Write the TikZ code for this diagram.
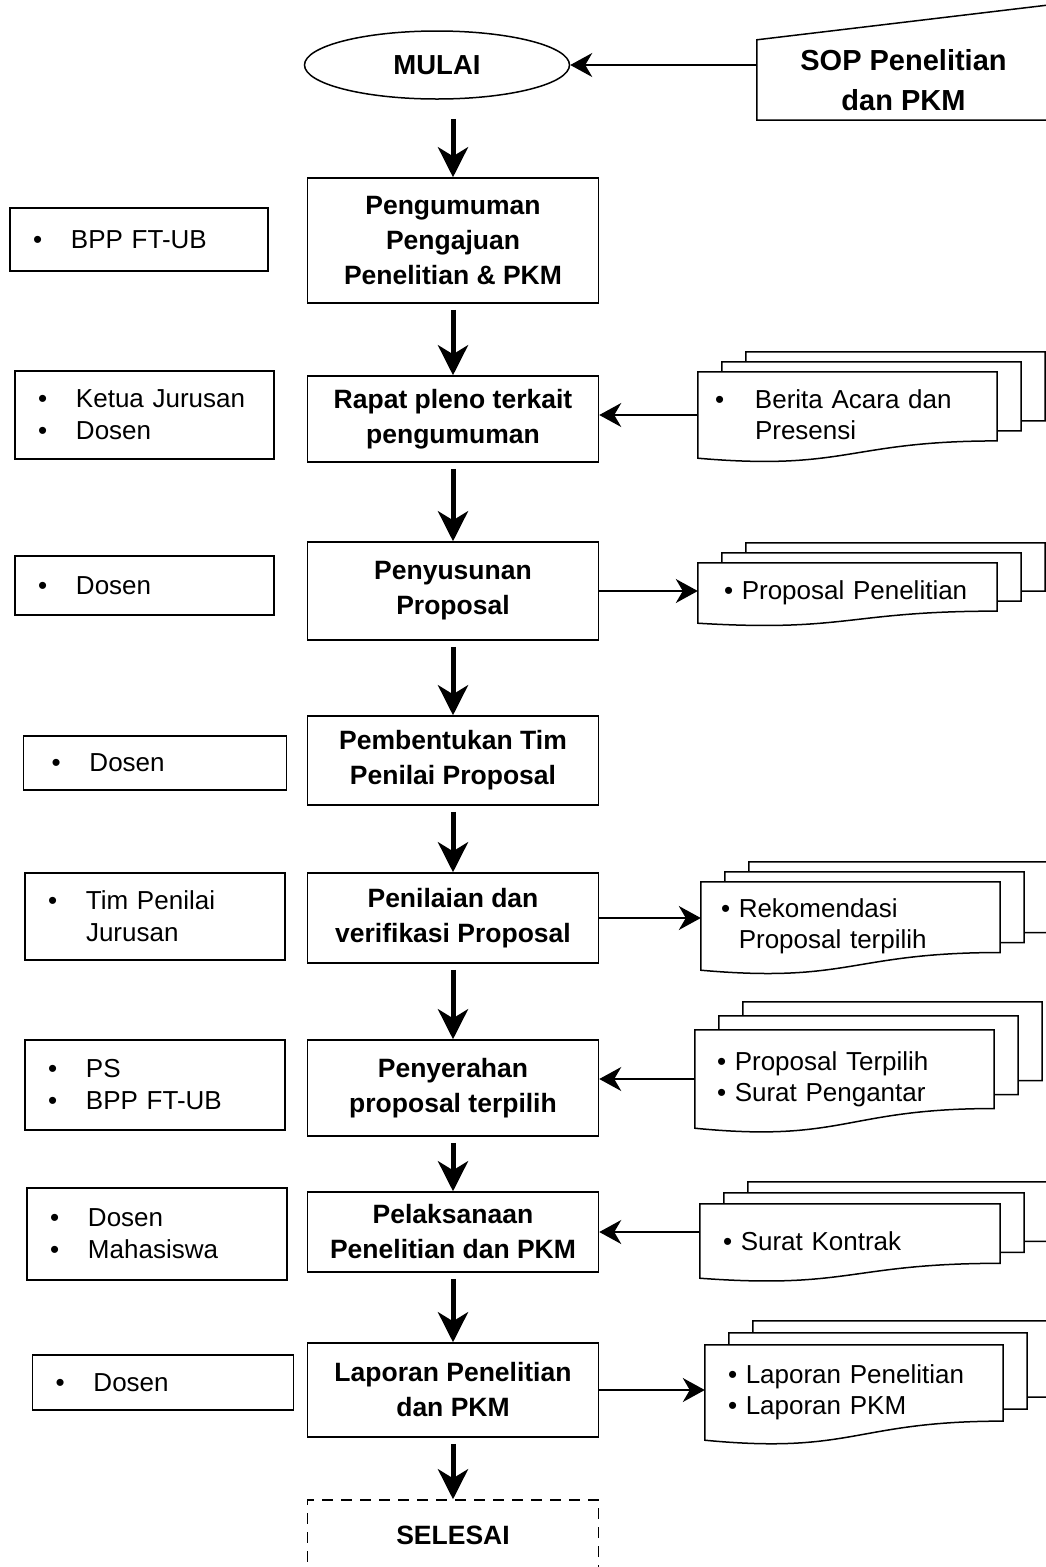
\documentclass[tikz,border=0pt]{standalone}
\usepackage{fontspec}
\setmainfont{Liberation Sans}
\usetikzlibrary{arrows.meta, calc, shapes.geometric}
\newcommand*{\itm}[1]{\makebox[38pt][l]{\textbullet}#1}
\newcommand*{\docstack}[3]{%
    \foreach \k in {2, 1} {
        \draw [sheet] ($(#1.north west)+(\k*#2, -\k*#3+#3)$) -- ($(#1.north west)+(\k*#2, -\k*#3)$)
            -- ($(#1.north east)+(\k*#2, -\k*#3)$)
            -- ($(#1.north east)!0.8!(#1.south east)+(\k*#2, -\k*#3)$)
            -- ($(#1.north east)!0.8!(#1.south east)+(\k*#2-#2, -\k*#3)$);
    }
    \draw [sheet] (#1.north west) -- (#1.north east) -- ($(#1.north east)!0.8!(#1.south east)$)
        .. controls ($(#1.north)!0.8!(#1.south)$) and ($(#1.north)!1.15!(#1.south)$) .. (#1.south west) -- cycle;
}
\tikzstyle{block} = [draw, line width=1.5pt, rectangle, inner xsep=0pt, inner ysep=0pt]
\tikzstyle{process} = [block, minimum width=291pt, align=center, font=\fontsize{26.5}{35}\selectfont\bfseries]
\tikzstyle{actor} = [block, align=left, inner xsep=23pt, font=\fontsize{26}{32}\selectfont]
\tikzstyle{paper} = [rectangle, align=left, inner ysep=0pt, font=\fontsize{26}{31}\selectfont]
\tikzstyle{sheet} = [line width=1.5pt, line join=miter]
\tikzstyle{terminal} = [draw, line width=1.5pt, ellipse, minimum width=265pt, minimum height=68pt, inner sep=0pt, font=\fontsize{27.5}{33}\selectfont\bfseries]
\tikzstyle{flow} = [-{Stealth[length=30pt, width=30pt, inset=9pt]}, line width=5pt, shorten <=6pt]
\tikzstyle{link} = [-{Stealth[length=22pt, width=24pt, inset=7pt]}, line width=1.5pt]

\begin{document}
\begin{tikzpicture}[x=1pt, y=-1pt]
    \clip (0, 0) rectangle (1046, 1567);

    % start and source document
    \node (mulai) [terminal] at (437, 65) {MULAI};
    \node (sop) [align=center, minimum width=293pt, minimum height=80pt, inner sep=0pt,
        font=\fontsize{29}{40}\selectfont\bfseries] at (903.5, 80) {SOP Penelitian\\dan PKM};
    \draw [sheet] (sop.south west) -- (sop.north west) -- ($(sop.north east)+(0, -35)$) -- (sop.south east) -- cycle;

    % main steps
    \node (umum) [process, minimum height=125pt] at (453, 240.5) {Pengumuman\\Pengajuan\\Penelitian \& PKM};
    \node (rapat) [process, minimum height=86pt] at (453, 419) {Rapat pleno terkait\\pengumuman};
    \node (susun) [process, minimum height=98pt] at (453, 591) {Penyusunan\\Proposal};
    \node (bentuk) [process, minimum height=89pt] at (453, 760.5) {Pembentukan Tim\\Penilai Proposal};
    \node (nilai) [process, minimum height=90pt] at (453, 918) {Penilaian dan\\verifikasi Proposal};
    \node (serah) [process, minimum height=96pt] at (453, 1088) {Penyerahan\\proposal terpilih};
    \node (laksana) [process, minimum height=80pt] at (453, 1232) {Pelaksanaan\\Penelitian dan PKM};
    \node (lapor) [process, minimum height=94pt] at (453, 1390) {Laporan Penelitian\\dan PKM};
    \node (selesai) [process, dash pattern=on 11pt off 8pt, minimum height=70pt] at (453, 1535) {SELESAI};

    % who does it
    \node (aktor 1) [actor, text width=212pt, minimum height=63pt] at (139, 239.5) {\itm{BPP FT-UB}};
    \node (aktor 2) [actor, text width=213pt, minimum height=88pt] at (144.5, 415) {\itm{Ketua Jurusan}\\\itm{Dosen}};
    \node (aktor 3) [actor, text width=213pt, minimum height=59pt] at (144.5, 585.5) {\itm{Dosen}};
    \node (aktor 4) [actor, inner xsep=28pt, text width=207pt, minimum height=54pt] at (155, 763) {\itm{Dosen}};
    \node (aktor 5) [actor, text width=214pt, minimum height=87pt] at (155, 916.5) {\itm{Tim Penilai}\\\hspace*{38pt}Jurusan};
    \node (aktor 6) [actor, text width=214pt, minimum height=90pt] at (155, 1085) {\itm{PS}\\\itm{BPP FT-UB}};
    \node (aktor 7) [actor, text width=214pt, minimum height=92pt] at (157, 1234) {\itm{Dosen}\\\itm{Mahasiswa}};
    \node (aktor 8) [actor, text width=215pt, minimum height=55pt] at (163, 1382.5) {\itm{Dosen}};

    % documents
    \node (berita) [paper, inner xsep=17pt, text width=265pt, minimum height=86pt] at (847.5, 415)
        {\makebox[40pt][l]{\textbullet}Berita Acara dan\\\hspace*{40pt}Presensi};
    \node (proppen) [paper, inner xsep=26pt, text width=247pt, minimum height=60pt] at (847.5, 593)
        {\textbullet\ Proposal Penelitian};
    \node (rekom) [paper, inner xsep=20pt, text width=259pt, minimum height=88pt] at (850.5, 926)
        {\textbullet\ Rekomendasi\\\hphantom{\textbullet\ }Proposal terpilih};
    \node (propter) [paper, inner xsep=22pt, text width=255pt, minimum height=98pt] at (844.5, 1079)
        {\textbullet\ Proposal Terpilih\\\textbullet\ Surat Pengantar};
    \node (kontrak) [paper, inner xsep=23pt, text width=254pt, minimum height=74pt] at (850, 1241)
        {\textbullet\ Surat Kontrak};
    \node (lapdoc) [paper, inner xsep=23pt, text width=252pt, minimum height=95pt] at (854, 1392.5)
        {\textbullet\ Laporan Penelitian\\\textbullet\ Laporan PKM};

    \docstack{berita}{24}{10}
    \docstack{proppen}{24}{10}
    \docstack{rekom}{24}{10}
    \docstack{propter}{24}{14}
    \docstack{kontrak}{24}{11}
    \docstack{lapdoc}{24}{12}

    % flow
    \draw [flow, shorten <=19pt] (umum |- mulai.south) -- (umum);
    \foreach \a/\b in {umum/rapat, rapat/susun, susun/bentuk, bentuk/nilai, nilai/serah, serah/laksana, laksana/lapor, lapor/selesai} {
        \draw [flow] (\a) -- (\b);
    }

    \draw [link] (sop.west |- mulai) -- (mulai);
    \draw [link] (berita.west) -- (berita.west -| rapat.east);
    \draw [link] (susun.east) -- (susun.east -| proppen.west);
    \draw [link] (nilai.east) -- (nilai.east -| rekom.west);
    \draw [link] (propter.west) -- (propter.west -| serah.east);
    \draw [link] (kontrak.west |- laksana.east) -- (laksana.east);
    \draw [link] (lapor.east) -- (lapor.east -| lapdoc.west);
\end{tikzpicture}
\end{document}
